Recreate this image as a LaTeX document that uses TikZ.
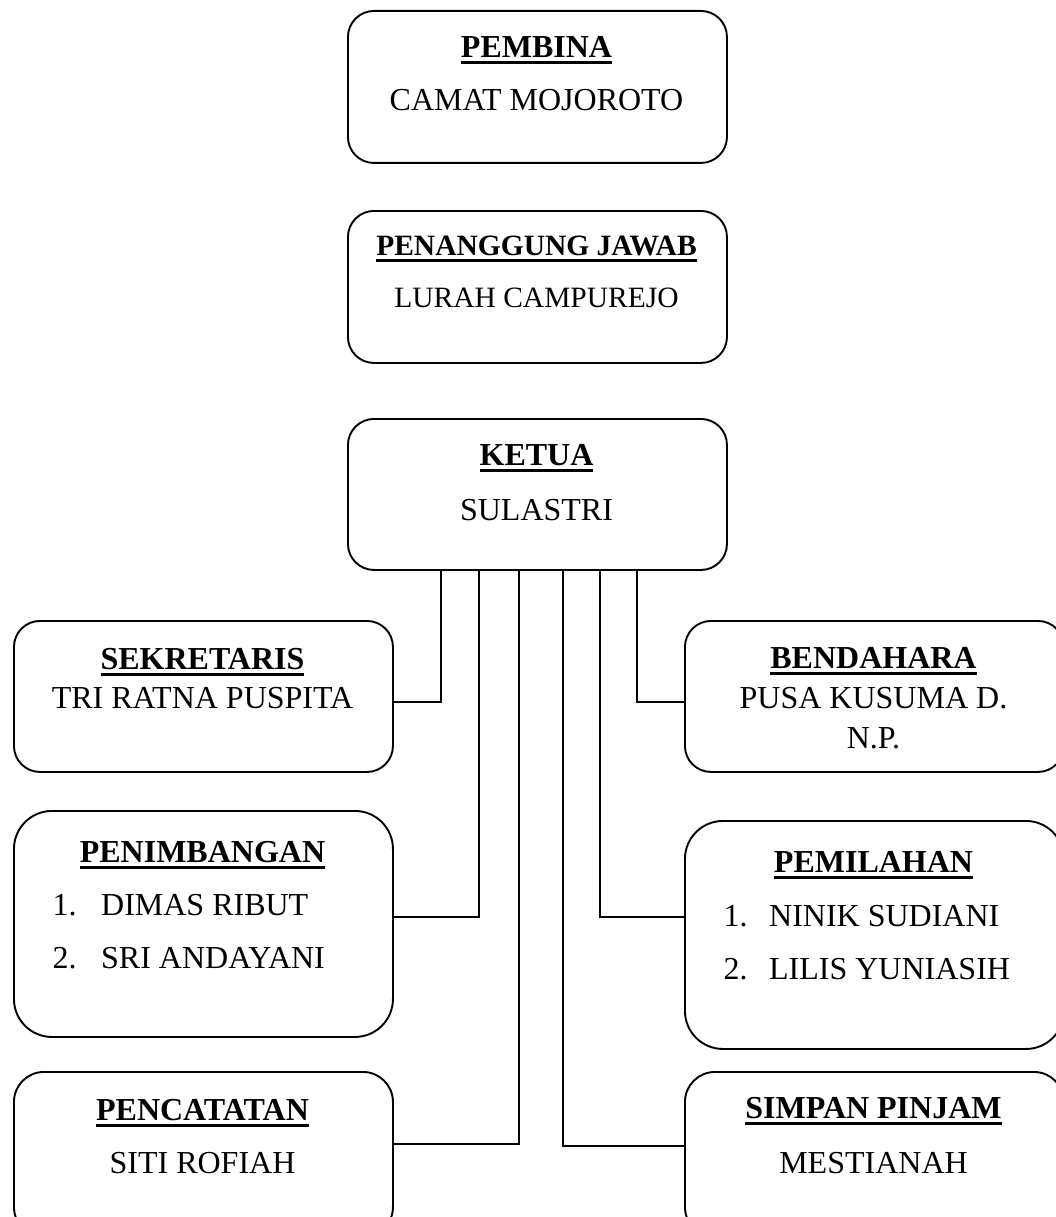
\documentclass[tikz,border=0pt]{standalone}
\usepackage{fontspec}
\setmainfont{Liberation Serif}
\newcommand\ulin[1]{\setbox0\hbox{#1}\rlap{\rule[-6.5pt]{\wd0}{3pt}}\box0}
\begin{document}
\begin{tikzpicture}[x=1pt,y=-1pt,
  orgbox/.style={draw, line width=1.9pt, rounded corners=26pt, minimum width=379pt, minimum height=152pt, anchor=north west, inner sep=0pt},
  conn/.style={line width=1.3pt},
  ttl/.style={anchor=base, inner sep=0pt, font=\fontsize{32}{38}\selectfont\bfseries},
  nm/.style={anchor=base, inner sep=0pt, font=\fontsize{32}{38}\selectfont},
  smallttl/.style={anchor=base, inner sep=0pt, font=\fontsize{29.5}{35}\selectfont\bfseries},
  smallnm/.style={anchor=base, inner sep=0pt, font=\fontsize{29.5}{35}\selectfont},
  listitem/.style={anchor=base west, inner sep=0pt, font=\fontsize{32}{38}\selectfont}]
\useasboundingbox (0,0) rectangle (1056,1217);

% boxes
\node[orgbox] (pembina) at (347,10) {};
\node[orgbox] (pj) at (347,210) {};
\node[orgbox, minimum height=151pt] (ketua) at (347,418) {};
\node[orgbox, minimum height=151pt] (sekretaris) at (13,620) {};
\node[orgbox, minimum height=151pt] (bendahara) at (684,620) {};
\node[orgbox, minimum height=226pt, rounded corners=38pt] (penimbangan) at (13,810) {};
\node[orgbox, minimum height=228pt, rounded corners=38pt] (pemilahan) at (684,820) {};
\node[orgbox, minimum height=165pt, rounded corners=30pt] (pencatatan) at (13,1071) {};
\node[orgbox, minimum height=165pt, rounded corners=30pt] (simpan) at (684,1071) {};

% texts
\node[ttl] (pembina-t) at (536.5,58) {\ulin{PEMBINA}};
\node[nm] (pembina-n) at (536.5,111) {CAMAT MOJOROTO};
\node[smallttl] (pj-t) at (536.5,255) {\ulin{PENANGGUNG JAWAB}};
\node[smallnm] (pj-n) at (536.5,307) {LURAH CAMPUREJO};
\node[ttl] (ketua-t) at (536.5,465) {\ulin{KETUA}};
\node[nm] (ketua-n) at (536.5,520) {SULASTRI};
\node[ttl] (sek-t) at (202.5,669) {\ulin{SEKRETARIS}};
\node[nm] (sek-n) at (202.5,708) {TRI RATNA PUSPITA};
\node[ttl] (ben-t) at (873.5,668.5) {\ulin{BENDAHARA}};
\node[nm] (ben-n1) at (873.5,708.5) {PUSA KUSUMA D.};
\node[nm] (ben-n2) at (873.5,748.5) {N.P.};
\node[ttl] (pen-t) at (202.5,862) {\ulin{PENIMBANGAN}};
\node[listitem] (pen-1) at (52.5,915) {\makebox[48.5pt][l]{1.}DIMAS RIBUT};
\node[listitem] (pen-2) at (52.5,968.5) {\makebox[48.5pt][l]{2.}SRI ANDAYANI};
\node[ttl] (pem-t) at (873.5,872) {\ulin{PEMILAHAN}};
\node[listitem] (pem-1) at (723.5,926) {\makebox[45.5pt][l]{1.}NINIK SUDIANI};
\node[listitem] (pem-2) at (723.5,979) {\makebox[45.5pt][l]{2.}LILIS YUNIASIH};
\node[ttl] (pc-t) at (202.5,1120) {\ulin{PENCATATAN}};
\node[nm] (pc-n) at (202.5,1173) {SITI ROFIAH};
\node[ttl] (sp-t) at (873.5,1118) {\ulin{SIMPAN PINJAM}};
\node[nm] (sp-n) at (873.5,1173) {MESTIANAH};

% connectors
\draw[conn] ([xshift=-96.5pt]ketua.south) |- ([yshift=-5.5pt]sekretaris.east);
\draw[conn] ([xshift=-58.5pt]ketua.south) |- ([yshift=7pt]penimbangan.east);
\draw[conn] ([xshift=-18.5pt]ketua.south) |- ([yshift=10.5pt]pencatatan.east);
\draw[conn] ([xshift=25.5pt]ketua.south) |- ([yshift=8.5pt]simpan.west);
\draw[conn] ([xshift=62.5pt]ketua.south) |- ([yshift=18pt]pemilahan.west);
\draw[conn] ([xshift=99.5pt]ketua.south) |- ([yshift=-5.5pt]bendahara.west);
\end{tikzpicture}
\end{document}
